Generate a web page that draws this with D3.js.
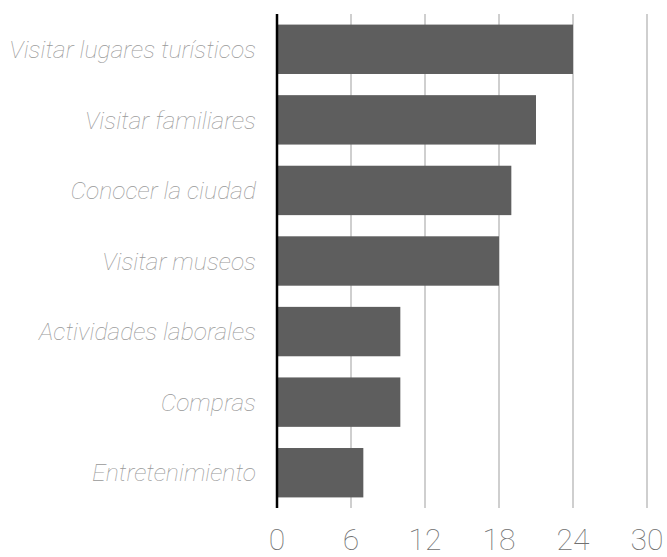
<!DOCTYPE html>
<html>
<head>
<meta charset="utf-8">
<script src="https://cdn.jsdelivr.net/npm/d3@7"></script>
<style>
  html, body { margin: 0; padding: 0; background: #fff; }
  svg { display: block; }
  .cat { font-family: Roboto, "Open Sans", sans-serif; font-weight: 100; font-style: italic; font-size: 24.7px; fill: #999999; }
  .tick-label { font-family: Roboto, "Open Sans", sans-serif; font-weight: 100; font-size: 30px; fill: #707070; }
</style>
</head>
<body>
<svg id="chart" width="667" height="557"></svg>
<script>
// Motivos de visita
const categories = [
  "Visitar lugares turísticos",
  "Visitar familiares",
  "Conocer la ciudad",
  "Visitar museos",
  "Actividades laborales",
  "Compras",
  "Entretenimiento"
];
const values = [24, 21, 19, 18, 10, 10, 7];
const tickValues = [0, 6, 12, 18, 24, 30];

const svg = d3.select("#chart");
const plotLeft = 277, plotRight = 647, plotTop = 14, plotBottom = 508;

const x = d3.scaleLinear().domain([0, 30]).range([plotLeft, plotRight]);
const y = d3.scaleBand()
  .domain(categories)
  .range([plotTop, plotBottom])
  .paddingInner(0.3)
  .paddingOuter(0.15);

// vertical gridlines
svg.append("g")
  .selectAll("line")
  .data(tickValues.filter(d => d > 0))
  .join("line")
  .attr("x1", d => x(d)).attr("x2", d => x(d))
  .attr("y1", plotTop).attr("y2", plotBottom)
  .attr("stroke", "#cfcfcf")
  .attr("stroke-width", 2);

// bars
svg.append("g")
  .selectAll("rect")
  .data(categories.map((c, i) => ({ c, v: values[i] })))
  .join("rect")
  .attr("x", x(0))
  .attr("y", d => y(d.c))
  .attr("width", d => x(d.v) - x(0))
  .attr("height", y.bandwidth())
  .attr("fill", "#5e5e5e");

// baseline axis
svg.append("line")
  .attr("x1", x(0)).attr("x2", x(0))
  .attr("y1", plotTop).attr("y2", plotBottom)
  .attr("stroke", "#000")
  .attr("stroke-width", 2.5);

// category labels
svg.append("g")
  .selectAll("text")
  .data(categories)
  .join("text")
  .attr("class", "cat")
  .attr("x", x(0) - 21)
  .attr("y", d => y(d) + y.bandwidth() / 2)
  .attr("dy", "0.35em")
  .attr("text-anchor", "end")
  .text(d => d);

// x tick labels
svg.append("g")
  .selectAll("text")
  .data(tickValues)
  .join("text")
  .attr("class", "tick-label")
  .attr("x", d => x(d))
  .attr("y", 550)
  .attr("text-anchor", "middle")
  .text(d => d);
</script>
</body>
</html>
